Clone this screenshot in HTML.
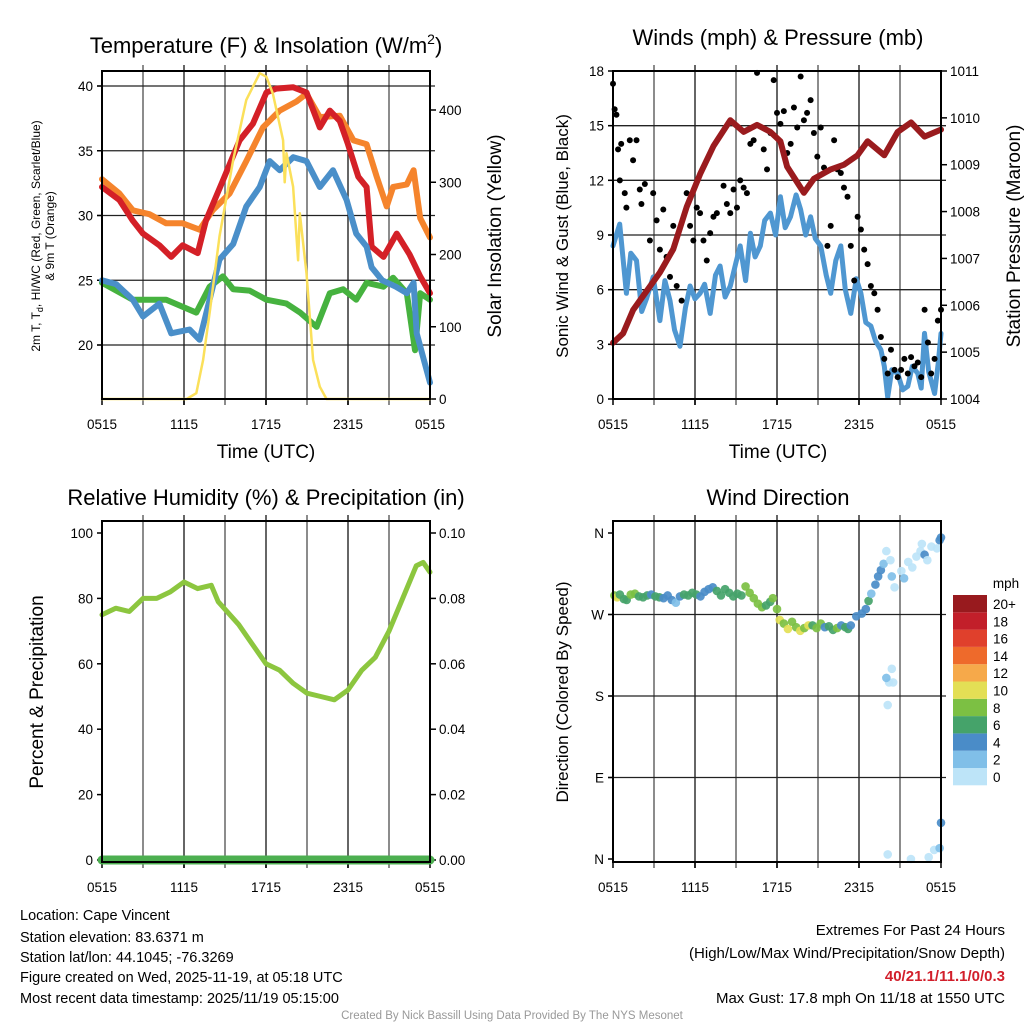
<!DOCTYPE html>
<html><head><meta charset="utf-8">
<style>
html,body{margin:0;padding:0;background:#fff;}
svg{display:block;font-family:"Liberation Sans",sans-serif;}
</style></head>
<body>
<svg id="chart" width="1024" height="1024" viewBox="0 0 1024 1024" xmlns="http://www.w3.org/2000/svg">
<g font-size="22" text-anchor="middle" fill="#000">
<text x="266" y="53">Temperature (F) &amp; Insolation (W/m<tspan dy="-9" font-size="14">2</tspan><tspan dy="9">)</tspan></text>
<text x="778" y="45">Winds (mph) &amp; Pressure (mb)</text>
<text x="266" y="505">Relative Humidity (%) &amp; Precipitation (in)</text>
<text x="778" y="505">Wind Direction</text>
</g>
<g fill="#000" text-anchor="middle">
<text x="266" y="458" font-size="19">Time (UTC)</text>
<text x="778" y="458" font-size="19">Time (UTC)</text>
<text transform="translate(40,236) rotate(-90)" font-size="12">2m T, T<tspan font-size="9" dy="3">d</tspan><tspan dy="-3">, HI/WC (Red, Green, Scarlet/Blue)</tspan></text>
<text transform="translate(54,236) rotate(-90)" font-size="12">&amp; 9m T (Orange)</text>
<text transform="translate(501,236) rotate(-90)" font-size="19">Solar Insolation (Yellow)</text>
<text transform="translate(568,236) rotate(-90)" font-size="17">Sonic Wind &amp; Gust (Blue, Black)</text>
<text transform="translate(1020,236) rotate(-90)" font-size="19">Station Pressure (Maroon)</text>
<text transform="translate(43,692) rotate(-90)" font-size="19">Percent &amp; Precipitation</text>
<text transform="translate(568,692) rotate(-90)" font-size="17">Direction (Colored By Speed)</text>
</g>
<g id="plots"></g>
<g font-size="14.5" fill="#000">
<text x="20" y="920">Location: Cape Vincent</text>
<text x="20" y="942">Station elevation: 83.6371 m</text>
<text x="20" y="962">Station lat/lon: 44.1045; -76.3269</text>
<text x="20" y="982">Figure created on Wed, 2025-11-19, at 05:18 UTC</text>
<text x="20" y="1003">Most recent data timestamp: 2025/11/19 05:15:00</text>
</g>
<g font-size="15" fill="#000" text-anchor="end">
<text x="1005" y="935">Extremes For Past 24 Hours</text>
<text x="1005" y="958">(High/Low/Max Wind/Precipitation/Snow Depth)</text>
<text x="1005" y="981" fill="#d21f2b" font-weight="bold">40/21.1/11.1/0/0.3</text>
<text x="1005" y="1003">Max Gust: 17.8 mph On 11/18 at 1550 UTC</text>
</g>
<text x="512" y="1019" font-size="11.5" fill="#999" text-anchor="middle">Created By Nick Bassill Using Data Provided By The NYS Mesonet</text>
</svg>
<script>
const xTickLabels = ['0515','1115','1715','2315','0515'];
const xTickHours = [0,6,12,18,24];
const tempLeftTicks = [20,25,30,35,40];
const insolTicks = [0,100,200,300,400];
const windTicks = [0,3,6,9,12,15,18];
const pressTicks = [1004,1005,1006,1007,1008,1009,1010,1011];
const rhTicks = [0,20,40,60,80,100];
const precipTicks = [0,0.02,0.04,0.06,0.08,0.10];
const dirTickDeg = [0,90,180,270,360];
const dirTickLabels = ['N','E','S','W','N'];

const redT = [0,1.27,2.25,3.0,4.2,5.06,5.9,7.0,7.6,8.85,10.07,11.05,12.03,12.76,14.0,14.96,15.94,16.67,17.4,18.0,18.75,19.36,19.73,20.6,21.56,22.5,23.28,24];
const redV = [32.2,31.2,29.6,28.6,27.7,26.8,27.7,27.1,29.6,32.7,35.8,37.1,39.5,39.8,39.9,39.5,36.8,38.1,37.3,35.5,33.0,32.2,27.6,26.8,28.6,27.0,25.3,24.0];
const orangeT = [0,1.27,2.25,3.47,4.7,5.9,7.14,8.1,9.34,10.56,11.78,13.0,14.23,14.96,15.94,17.4,18.4,19.36,20.1,20.83,21.3,22.3,22.8,23.28,24];
const orangeV = [32.8,31.7,30.4,30.1,29.4,29.4,28.9,30.4,31.7,34.2,36.8,38.1,38.8,39.4,37.6,37.7,35.8,35.5,33.0,30.7,32.2,32.4,33.5,29.8,28.3];
const blueT = [0,1.03,2.25,3.0,4.2,5.06,6.4,7.14,7.87,8.6,9.6,10.56,11.54,12.27,13.0,14.0,14.96,15.94,16.9,17.9,18.6,19.36,19.73,20.5,21.5,22.3,22.8,23.03,24];
const blueV = [25.0,24.7,23.5,22.2,23.2,20.9,21.2,20.4,23.5,26.6,27.8,30.7,32.2,34.2,33.5,34.5,34.2,32.2,33.5,31.2,28.6,27.6,26.0,25.0,24.5,24.0,24.8,20.9,17.1];
const greenT = [0,2.25,4.7,6.9,7.87,8.85,9.6,10.8,12.03,13.5,14.5,15.7,16.67,17.65,18.6,19.36,20.6,21.3,22.3,22.9,23.28,24];
const greenV = [24.8,23.5,23.5,22.5,24.5,25.3,24.3,24.2,23.5,23.2,22.5,21.4,24.0,24.3,23.5,24.8,24.5,25.2,24.0,19.6,24.0,23.5];
const insolT = [0,6.2,6.9,7.4,7.9,8.6,9.6,10.56,11.54,12.03,12.5,13.25,13.37,13.5,13.98,14.35,14.47,14.96,15.45,15.94,16.43,24];
const insolV = [0,0,8,54,123,225,331,414,451,446,423,358,300,340,294,192,257,174,54,17,0,0];

const windT = [0,0.49,0.98,1.3,1.72,2.1,2.45,2.94,3.43,3.8,4.17,4.5,4.9,5.3,5.64,6.0,6.37,6.7,7.11,7.5,7.84,8.2,8.58,9.0,9.31,9.7,10.05,10.4,10.78,11.1,11.52,11.9,12.25,12.6,12.99,13.4,13.73,14.1,14.46,14.8,15.2,15.6,15.93,16.3,16.67,17.0,17.4,17.8,18.14,18.5,18.87,19.2,19.6,19.85,20.1,20.4,20.83,21.2,21.57,21.9,22.3,22.55,22.79,23.1,23.53,23.8,24];
const windV = [8.4,9.6,5.8,8.0,7.6,4.8,5.5,6.7,4.3,6.5,5.4,3.8,2.9,5.0,6.2,5.5,5.8,6.3,4.7,6.8,7.3,5.6,6.2,7.5,8.4,6.5,9.1,7.8,8.4,9.8,10.2,9.0,11.1,9.4,10.0,11.2,10.4,9.0,10.0,8.8,8.4,6.8,5.8,7.6,8.4,6.0,4.7,6.6,5.8,4.2,4.0,3.2,2.7,1.8,0.1,1.6,1.4,0.5,0.7,1.8,1.4,0.6,3.6,1.5,0.3,2.0,3.6];
const gustT = [0,0.12,0.25,0.37,0.5,0.6,0.86,0.98,1.23,1.47,1.72,1.96,2.08,2.33,2.7,2.94,3.19,3.43,3.68,3.92,4.17,4.41,4.66,5.02,5.39,5.64,5.88,6.13,6.37,6.62,6.86,7.11,7.35,7.6,8.09,8.33,8.58,8.82,9.07,9.31,9.56,9.8,10.05,10.29,10.54,11.03,11.27,11.52,11.76,12.0,12.25,12.5,12.75,13.0,13.24,13.48,13.73,13.97,14.2,14.46,14.7,14.95,15.2,15.44,15.69,15.93,16.18,16.42,16.67,16.9,17.16,17.4,17.65,17.9,18.14,18.38,18.63,18.87,19.12,19.36,19.6,19.85,20.1,20.34,20.6,20.83,21.08,21.32,21.57,21.81,22.06,22.3,22.55,22.8,23.04,23.28,23.53,23.77,24];
const gustV = [17.3,15.9,15.6,13.7,12.0,14.0,11.3,10.5,14.2,13.1,14.2,11.5,10.7,11.8,8.7,11.3,9.8,8.2,10.4,7.8,6.7,9.5,6.2,5.4,11.3,9.5,8.7,10.5,10.2,8.7,7.6,9.1,10.0,10.2,11.7,10.7,10.2,11.5,10.5,12.0,11.6,11.3,14.0,14.2,17.9,13.7,12.6,14.6,17.5,15.7,15.1,15.8,13.5,14.0,16.0,14.9,17.7,15.3,15.7,16.4,14.6,13.3,14.9,12.7,8.4,9.5,14.2,12.6,12.4,11.6,11.1,8.4,6.5,10.0,9.3,8.2,7.4,6.2,5.8,4.9,3.4,2.2,1.4,2.7,1.6,1.2,1.6,2.2,1.4,2.3,1.8,2.0,1.2,4.9,3.1,1.4,2.2,4.3,4.9];
const pressT = [0,0.74,1.47,2.45,3.43,4.41,5.39,6.37,7.35,8.58,9.56,10.54,11.52,12.25,12.74,13.97,14.7,15.93,16.9,17.89,18.63,19.85,20.83,21.81,22.79,24];
const pressV = [1005.2,1005.4,1005.9,1006.3,1006.7,1007.2,1008.1,1008.8,1009.4,1009.95,1009.7,1009.85,1009.7,1009.5,1008.96,1008.4,1008.7,1008.9,1009.0,1009.2,1009.5,1009.2,1009.7,1009.9,1009.6,1009.75];

const rhT = [0,1,2,3,4,5,6,7,8,8.5,10,11,12,13,14,15,16,17,18,19,20,21,22,23,23.5,24];
const rhV = [75,77,76,80,80,82,85,83,84,79,72,66,60,58,54,51,50,49,52,58,62,70,80,90,91,88];
const precipT = [0,24];
const precipV = [0,0];

const dirT = [0.1,0.3,0.5,0.8,1.0,1.3,1.6,1.9,2.2,2.5,2.8,3.1,3.4,3.7,4.0,4.3,4.6,4.9,5.2,5.5,5.8,6.1,6.4,6.7,7.0,7.3,7.6,7.9,8.2,8.5,8.8,9.1,9.4,9.7,10.0,10.3,10.6,10.9,11.2,11.5,11.7,12.0,12.2,12.5,12.8,13.1,13.4,13.7,14.0,14.3,14.6,14.9,15.2,15.5,15.8,16.1,16.4,16.7,17.0,17.2,17.4,17.8,18.2,18.5,18.7,18.9,19.2,19.4,19.6,19.8,20.0,20.3,20.4,20.6,20.4,20.2,20.5,20.0,20.1,20.1,21.1,21.3,21.6,21.9,22.2,22.5,22.8,22.6,23.0,23.3,23.7,23.9,24.0,23.5,23.9,24.0,21.8,23.1];
const dirDeg = [291,289,292,287,286,292,293,290,289,291,292,290,289,288,291,286,283,290,292,291,294,292,290,295,298,300,296,291,298,294,290,293,291,301,294,288,282,278,280,284,288,276,264,260,254,262,256,252,255,258,258,255,260,256,257,253,255,258,256,254,258,268,271,276,285,293,303,312,319,326,340,330,312,300,210,195,195,200,170,5,318,310,328,322,334,340,336,348,330,345,343,352,355,10,12,40,0,2];
const dirSpd = [9,10,7,7,6,8,8,6,6,7,4,6,6,4,4,4,3,4,6,6,7,6,5,5,4,4,6,6,6,7,6,7,6,8,8,8,8,8,6,6,9,8,10,8,10,8,9,10,8,10,6,8,8,4,6,6,8,4,6,6,4,4,4,4,6,3,4,4,4,2,1,1,2,1,1,1,1,3,1,0,1,2,0,1,0,0,5,1,1,0,0,5,5,1,3,5,1,0];
const cbLabels = ['0','2','4','6','8','10','12','14','16','18','20+'];
const cbColors = ['#bde4f8','#80bfe8','#4a8cc8','#45a36a','#7cc043','#e3df55','#f6a94a','#ee6a2b','#e0402c','#c21f2a','#981a1e'];

const NS='http://www.w3.org/2000/svg';
const root=document.getElementById('plots');
function mk(tag,attrs,parent){const e=document.createElementNS(NS,tag);for(const k in attrs)e.setAttribute(k,attrs[k]);(parent||root).appendChild(e);return e;}
function lin(d0,d1,r0,r1){return v=>r0+(v-d0)*(r1-r0)/(d1-d0);}

const P1={x0:102,x1:430,y0:71,y1:399};
const P2={x0:613,x1:941,y0:71,y1:399};
const P3={x0:102,x1:430,y0:521,y1:862};
const P4={x0:613,x1:941,y0:521,y1:862};

function grid(P,name,hLines){
  const g=mk('g',{});
  
  
  const x=lin(0,24,P.x0,P.x1);
  for(let h=3;h<24;h+=3){
    const l=mk('line',{x1:x(h),x2:x(h),y1:P.y0-6,y2:P.y1+6,stroke:(h%6==0)?'#333':'#666','stroke-width':1.5},g);
    
    
  }
  hLines.forEach(y=>{
    const l=mk('line',{x1:P.x0-5,x2:P.x1+5,y1:y,y2:y,stroke:'#222','stroke-width':1.3},g);
    
    
  });
  xTickHours.forEach((h,i)=>{
    const t=mk('text',{x:x(h),y:P.y1+30,'font-size':13.5,'text-anchor':'middle'},g);
    t.textContent=xTickLabels[i];
    
    
    mk('line',{x1:x(h),x2:x(h),y1:P.y1,y2:P.y1+6,stroke:'#000','stroke-width':1.5},g);
  });
}
function frame(P,name){
  const r=mk('rect',{x:P.x0,y:P.y0,width:P.x1-P.x0,height:P.y1-P.y0,fill:'none',stroke:'#000','stroke-width':2});
  
  
}
function yTicks(P,ticks,fy,labels,side,name){
  const g=mk('g',{});
  
  
  ticks.forEach((v,i)=>{
    const y=fy(v);
    const xe=side=='l'?P.x0:P.x1;
    mk('line',{x1:xe,x2:side=='l'?xe-5:xe+6,y1:y,y2:y,stroke:'#000','stroke-width':1.5},g);
    const t=mk('text',{x:side=='l'?xe-9:xe+9,y:y+5,'font-size':13.5,'text-anchor':side=='l'?'end':'start'},g);
    t.textContent=labels[i];
    
    
  });
}
function line(T,V,fx,fy,color,w,name){
  const pts=T.map((t,i)=>fx(t).toFixed(1)+','+fy(V[i]).toFixed(1)).join(' ');
  const p=mk('polyline',{points:pts,fill:'none',stroke:color,'stroke-width':w,'stroke-linejoin':'round','stroke-linecap':'round'});
  
  
}

// Panel 1
const x1=lin(0,24,P1.x0,P1.x1);
const yT=lin(40,20,86,345);
const yI=lin(0,400,399,110);
grid(P1,'temperature',tempLeftTicks.map(yT));
yTicks(P1,tempLeftTicks,yT,tempLeftTicks.map(String),'l','temperature-y-ticks');
yTicks(P1,insolTicks,yI,insolTicks.map(String),'r','insolation-y-ticks');
line(orangeT,orangeV,x1,yT,'#f5842c',6,'temp-9m-line');
line(redT,redV,x1,yT,'#d42027',6,'temp-2m-line');
line(greenT,greenV,x1,yT,'#46b23f',6,'dewpoint-line');
line(blueT,blueV,x1,yT,'#4a8fc9',6,'heat-index-windchill-line');
line(insolT,insolV,x1,yI,'#fbe05a',2.5,'insolation-line');
frame(P1,'temperature');

// Panel 2
const x2=lin(0,24,P2.x0,P2.x1);
const yW=lin(0,18,399,71);
const yP=lin(1004,1011,399,71);
grid(P2,'wind',windTicks.slice(1,6).map(yW));
yTicks(P2,windTicks,yW,windTicks.map(String),'l','wind-y-ticks');
yTicks(P2,pressTicks,yP,pressTicks.map(String),'r','pressure-y-ticks');
line(windT,windV,x2,yW,'#4f97d1',5,'sonic-wind-line');
gustT.forEach((t,i)=>{
  const c=mk('circle',{cx:x2(t),cy:yW(gustV[i]),r:3,fill:'#000'});
  
  
});
line(pressT,pressV,x2,yP,'#9a1b1e',6,'pressure-line');
frame(P2,'wind');

// Panel 3
const x3=lin(0,24,P3.x0,P3.x1);
const yR=lin(0,100,860,533);
const yPr=lin(0,0.1,860,533);
grid(P3,'humidity',[]);
yTicks(P3,rhTicks,yR,rhTicks.map(String),'l','humidity-y-ticks');
yTicks(P3,precipTicks,yPr,precipTicks.map(v=>v.toFixed(2)),'r','precip-y-ticks');
line(rhT,rhV,x3,yR,'#8cc63f',5,'humidity-line');
line(precipT,precipV,x3,yPr,'#4caf50',9,'precipitation-line');
frame(P3,'humidity');

// Panel 4
const x4=lin(0,24,P4.x0,P4.x1);
const yD=lin(0,360,859,533);
grid(P4,'direction',[90,180,270].map(yD));
yTicks(P4,dirTickDeg,yD,dirTickLabels,'l','direction-y-ticks');
dirT.forEach((t,i)=>{
  const bin=Math.min(10,Math.floor(dirSpd[i]/2));
  const c=mk('circle',{cx:x4(t),cy:yD(dirDeg[i]),r:4.3,fill:cbColors[bin],opacity:0.92});
  
  
});
frame(P4,'direction');

// Colorbar
const cb=mk('g',{});


const cbt=mk('text',{x:1006,y:588,'font-size':13.5,'text-anchor':'middle'},cb);
cbt.textContent='mph';


const cbY=lin(10,0,595,768);
cbLabels.forEach((lab,i)=>{
  const y=cbY(i);
  const r=mk('rect',{x:953,y:y,width:34,height:17.3,fill:cbColors[i]},cb);
  
  
  const t=mk('text',{x:993,y:y+14,'font-size':13.5},cb);
  t.textContent=lab;
  
  
});
</script>
</body></html>
